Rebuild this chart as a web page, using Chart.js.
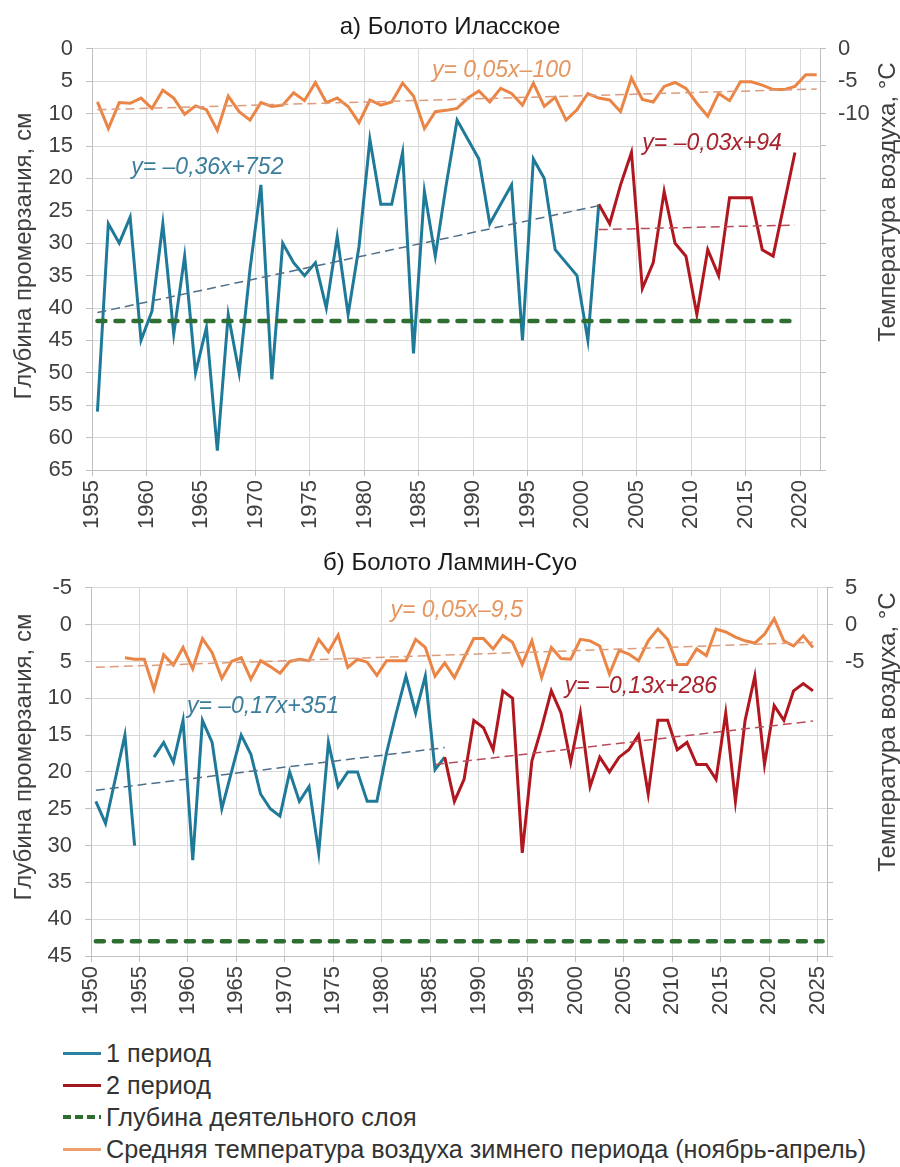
<!DOCTYPE html>
<html lang="ru">
<head>
<meta charset="utf-8">
<title>Глубина промерзания болот</title>
<script src="https://cdn.jsdelivr.net/npm/chart.js@4.4.1/dist/chart.umd.min.js"></script>
<style>
  html, body { margin: 0; padding: 0; background: #fff; }
  body { width: 900px; height: 1167px; position: relative; overflow: hidden; font-family: "Liberation Sans", Arial, sans-serif; }
  .box { position: absolute; left: 0; width: 900px; }
  #boxA { top: 0; height: 545px; }
  #boxB { top: 545px; height: 485px; }
  .legend { position: absolute; left: 63px; top: 1037px; }
  .legend div { height: 32px; display: flex; align-items: center; font-size: 25.2px; color: #333; white-space: nowrap; }
  .legend i { display: inline-block; width: 38px; height: 3px; margin-right: 5px; }
</style>
</head>
<body>
<div class="box" id="boxA"><canvas id="chartA"></canvas></div>
<div class="box" id="boxB"><canvas id="chartB"></canvas></div>
<div class="legend">
  <div><i style="background:#2a82a3"></i>1 период</div>
  <div><i style="background:#a3171f"></i>2 период</div>
  <div><i style="height:4px;background:repeating-linear-gradient(90deg,#2f6e31 0 8px,transparent 8px 12px)"></i>Глубина деятельного слоя</div>
  <div><i style="background:#eda06e"></i>Средняя температура воздуха зимнего периода (ноябрь-апрель)</div>
</div>
<script>
// а) Болото Иласское — глубина промерзания, см
const ilasStart = 1955;
const ilasPeriod1 = [56, 27, 30, 26, 45, 40.5, 27, 44, 32, 50, 43, 62, 41, 50, 34, 21, 51, 30, 33, 35,
  33, 40, 29, 41, 30.5, 14, 24, 24, 16, 47, 22, 32, 21, 11, 14, 17, 27, 24, 21, 45, 17, 20, 31, 33, 35, 45, 24];
const ilasPeriod2Start = 2001;
const ilasPeriod2 = [24, 27, 21, 16, 37, 33, 22, 30, 32, 41, 31, 35, 23, 23, 23, 31, 32, 24, 16];
// средняя температура ноябрь-апрель, °С
const ilasTemp = [-8.2, -12.3, -8.3, -8.4, -7.6, -9.2, -6.4, -7.6, -10.1, -8.8, -9.4, -12.6, -7.3, -9.7, -11.0,
  -8.3, -8.9, -8.7, -6.8, -8.0, -5.2, -8.3, -7.6, -8.9, -11.4, -7.9, -8.7, -8.2, -5.3, -7.3, -12.3, -9.7, -9.5,
  -9.2, -7.6, -6.5, -8.2, -6.1, -6.9, -8.7, -5.3, -8.9, -7.5, -11.0, -9.4, -6.9, -7.6, -7.9, -9.7, -4.5, -7.8,
  -8.2, -5.8, -5.2, -6.1, -8.4, -10.4, -6.9, -8.0, -5.1, -5.1, -5.6, -6.3, -6.3, -5.8, -4.0, -4.0];
const ilasLayerYears = [1955, 2019];
const ilasLayerDepth = [42, 42];
const ilasTrendTempYears = [1955, 2021], ilasTrendTemp = [-9.4, -6.2];
const ilasTrend1Years = [1955, 2001], ilasTrend1 = [40.7, 24.2];
const ilasTrend2Years = [2001, 2019], ilasTrend2 = [27.9, 27.2];

// б) Болото Ламмин-Суо
const lamStart = 1950;
const lamPeriod1 = [24, 27, 21, 15, 30, null, 18, 16, 18.7, 13, 32, 13, 16, 25, 20, 15, 17.6, 23, 25, 26,
  20, 24, 22, 31, 16, 22, 20, 20, 24, 24, 17.4, 12, 7, 12, 7, 19.7, 18];
const lamPeriod2Start = 1986;
const lamPeriod2 = [18, 24, 21, 13, 14, 17, 9, 10, 31, 18.5, 14, 9, 12, 18.7, 12, 22, 18, 20, 18, 17,
  15, 23, 13, 13, 17, 16, 19, 19, 21, 12, 24, 13, 7, 19, 11, 13, 9, 8, 9];
const lamTempStart = 1953;
const lamTemp = [-4.5, -4.7, -4.7, -8.8, -4.1, -5.5, -3.1, -6.0, -1.9, -3.8, -7.3, -5.0, -4.5, -7.4, -4.9,
  -5.7, -6.6, -5.0, -4.7, -4.9, -2.0, -3.7, -1.4, -5.8, -4.7, -5.1, -6.9, -4.9, -4.9, -4.9, -2.0, -3.1, -7.0,
  -5.2, -7.2, -4.5, -1.9, -1.9, -3.3, -1.5, -2.4, -5.4, -2.2, -7.2, -3.1, -4.6, -4.7, -2.0, -2.2, -2.9, -6.7,
  -3.5, -4.0, -4.9, -2.2, -0.6, -2.0, -5.4, -5.4, -3.3, -4.2, -0.6, -1.0, -1.7, -2.2, -2.5, -1.3, 0.8, -2.2,
  -2.9, -1.5, -3.1];
const lamLayerYears = [1950, 2025];
const lamLayerDepth = [43, 43];
const lamTrendTempYears = [1950, 2024], lamTrendTemp = [-5.8, -2.4];
const lamTrend1Years = [1950, 1986], lamTrend1 = [22.5, 16.7];
const lamTrend2Years = [1985, 2024], lamTrend2 = [19.0, 13.1];

const MID = 0.5; // точка года стоит в середине зимы
const FONT = '"Liberation Sans", Arial, sans-serif';
const C_BLUE = '#1f7a99', C_RED = '#b0171f', C_GREEN = '#2f6e31', C_ORANGE = '#eb8546';
const GRID = '#d9d9d9', AXIS = '#bfbfbf', TICK = '#404040';

Chart.defaults.font.family = FONT;

function pts(start, vals) { return vals.map((v, i) => ({ x: start + i + MID, y: v })); }
function seg(years, vals) { return years.map((yr, i) => ({ x: yr + MID, y: vals[i] })); }

function line(label, data, color, axis, extra) {
  return Object.assign({
    label, data, borderColor: color, borderWidth: 3, pointRadius: 0, tension: 0,
    yAxisID: axis, spanGaps: false, fill: false
  }, extra);
}
function trend(data, color, axis) {
  return line('тренд', data, color, axis, { borderWidth: 1.5, borderDash: [9, 5], order: 0 });
}

// подписи уравнений и названия осей
const decor = {
  id: 'decor',
  afterDatasetsDraw(chart, args, o) {
    const { ctx, scales } = chart;
    ctx.save();
    ctx.textBaseline = 'middle';
    ctx.textAlign = 'left';
    ctx.font = 'italic 23px ' + FONT;
    o.eqs.forEach(e => {
      ctx.fillStyle = e.color;
      ctx.fillText(e.text, scales.x.getPixelForValue(e.x), scales.y.getPixelForValue(e.y));
    });
    ctx.font = '24px ' + FONT;
    ctx.fillStyle = TICK;
    ctx.textAlign = 'center';
    [[o.leftX, o.leftY, 'Глубина промерзания, см'], [o.rightX, o.rightY, 'Температура воздуха, °С']].forEach(([x, y, t]) => {
      ctx.save();
      ctx.translate(x, y);
      ctx.rotate(-Math.PI / 2);
      ctx.fillText(t, 0, 0);
      ctx.restore();
    });
    ctx.restore();
  }
};

function makeChart(id, p) {
  const tickFont = { size: 22, family: FONT };
  return new Chart(document.getElementById(id), {
    type: 'line',
    data: { datasets: p.datasets },
    plugins: [decor],
    options: {
      responsive: true,
      maintainAspectRatio: false,
      animation: false,
      layout: { padding: 0 },
      plugins: {
        legend: { display: false },
        tooltip: { enabled: false },
        title: {
          display: true, text: p.title, color: '#1a1a1a',
          font: { size: 24, weight: 'normal', family: FONT }, padding: p.titlePad
        },
        decor: p.decor
      },
      scales: {
        x: {
          type: 'linear', min: p.xMin, max: p.xMax,
          afterBuildTicks: s => {
            const t = [];
            for (let v = p.xMin; v <= p.xMax; v += 5) t.push({ value: v });
            s.ticks = t;
          },
          afterFit: s => { s.height = p.xHeight; },
          ticks: { autoSkip: false, minRotation: 90, maxRotation: 90, padding: 4, color: TICK, font: tickFont, callback: v => String(v) },
          grid: { color: GRID, tickLength: 6, tickColor: AXIS },
          border: { color: AXIS }
        },
        y: {
          position: 'left', min: p.yMin, max: p.yMax, reverse: true,
          afterFit: s => { s.width = p.leftW; },
          ticks: { stepSize: 5, padding: 13, color: TICK, font: tickFont },
          grid: { color: GRID, tickLength: 6, tickColor: AXIS },
          border: { color: AXIS }
        },
        yT: {
          position: 'right', min: -p.yMax, max: -p.yMin,
          afterFit: s => { s.width = p.rightW; },
          ticks: { stepSize: 5, padding: 12, color: TICK, font: tickFont, callback: v => (v >= p.tempLabelMin ? String(v) : '') },
          grid: { drawOnChartArea: false, tickLength: 6, color: AXIS },
          border: { color: AXIS }
        }
      }
    }
  });
}

makeChart('chartA', {
  title: 'а) Болото Иласское',
  titlePad: { top: 13, bottom: 7 },
  xMin: 1955, xMax: 2021.8, xHeight: 75,
  yMin: 0, yMax: 65, leftW: 92, rightW: 80, tempLabelMin: -10,
  datasets: [
    line('1 период', pts(ilasStart, ilasPeriod1), C_BLUE, 'y', { order: 4 }),
    line('2 период', pts(ilasPeriod2Start, ilasPeriod2), C_RED, 'y', { order: 3 }),
    line('Средняя температура', pts(ilasStart, ilasTemp), C_ORANGE, 'yT', { order: 2 }),
    line('Глубина деятельного слоя', seg(ilasLayerYears, ilasLayerDepth), C_GREEN, 'y',
      { order: 1, borderWidth: 4.5, borderDash: [8, 10], borderCapStyle: 'round' }),
    trend(seg(ilasTrendTempYears, ilasTrendTemp), '#dc9c7c', 'yT'),
    trend(seg(ilasTrend1Years, ilasTrend1), '#4f6f88', 'y'),
    trend(seg(ilasTrend2Years, ilasTrend2), '#b84c5a', 'y')
  ],
  decor: {
    leftX: 24, leftY: 256, rightX: 888, rightY: 202,
    eqs: [
      { text: 'y= 0,05x–100', x: 1986.2, y: 3.3, color: '#e6965f' },
      { text: 'y= –0,36x+752', x: 1958.6, y: 18.4, color: '#3b7e9c' },
      { text: 'y= –0,03x+94', x: 2005.5, y: 14.6, color: '#a8232d' }
    ]
  }
});

makeChart('chartB', {
  title: 'б) Болото Ламмин-Суо',
  titlePad: { top: 4, bottom: 10 },
  xMin: 1950, xMax: 2025.95, xHeight: 74,
  yMin: -5, yMax: 45, leftW: 91, rightW: 73, tempLabelMin: -5,
  datasets: [
    line('1 период', pts(lamStart, lamPeriod1), C_BLUE, 'y', { order: 4 }),
    line('2 период', pts(lamPeriod2Start, lamPeriod2), C_RED, 'y', { order: 3 }),
    line('Средняя температура', pts(lamTempStart, lamTemp), C_ORANGE, 'yT', { order: 2 }),
    line('Глубина деятельного слоя', seg(lamLayerYears, lamLayerDepth), C_GREEN, 'y',
      { order: 1, borderWidth: 4.5, borderDash: [8, 10], borderCapStyle: 'round' }),
    trend(seg(lamTrendTempYears, lamTrendTemp), '#dc9c7c', 'yT'),
    trend(seg(lamTrend1Years, lamTrend1), '#4f6f88', 'y'),
    trend(seg(lamTrend2Years, lamTrend2), '#b84c5a', 'y')
  ],
  decor: {
    leftX: 24, leftY: 212, rightX: 888, rightY: 187,
    eqs: [
      { text: 'y= 0,05x–9,5', x: 1980.9, y: -1.9, color: '#e6965f' },
      { text: 'y= –0,17x+351', x: 1959.9, y: 11.1, color: '#3b7e9c' },
      { text: 'y= –0,13x+286', x: 1998.9, y: 8.35, color: '#a8232d' }
    ]
  }
});
</script>
</body>
</html>
